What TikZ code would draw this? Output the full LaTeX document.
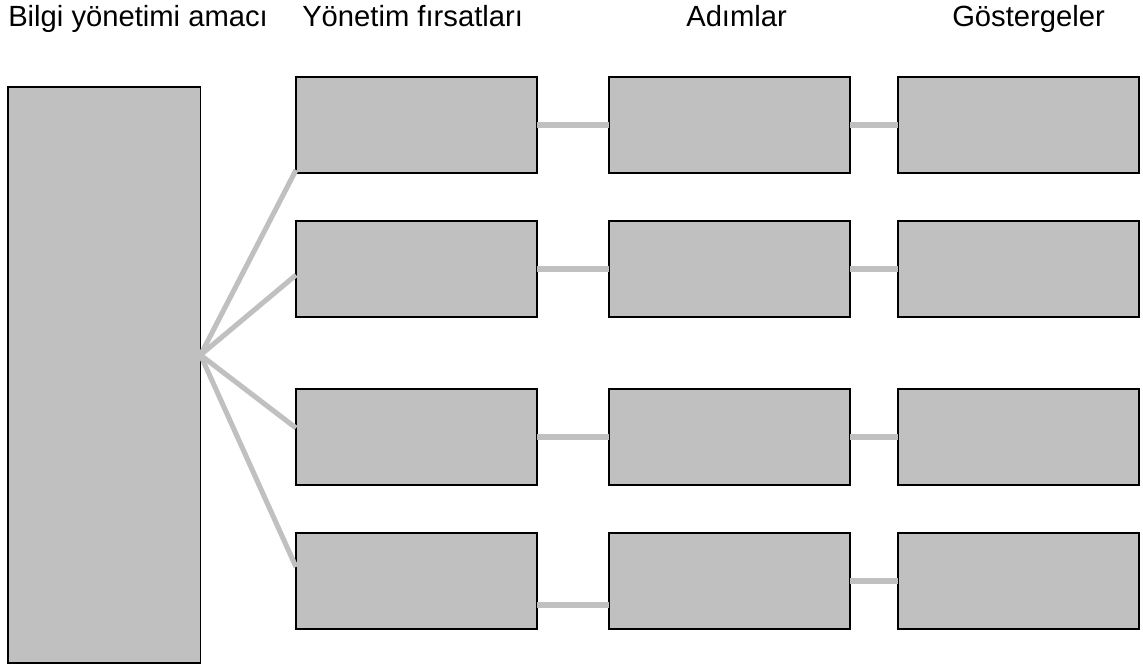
\documentclass[tikz,border=0pt]{standalone}
\usepackage{fontspec}
\setmainfont{Liberation Sans}
\usetikzlibrary{calc}

\definecolor{boxgray}{RGB}{192,192,192}

\tikzset{
  goal/.style={draw=black, fill=boxgray, line width=1.2pt, inner sep=0pt, outer sep=0pt,
    anchor=north west, minimum width=144.5pt, minimum height=432pt},
  cell/.style={draw=black, fill=boxgray, line width=1.2pt, inner sep=0pt, outer sep=0pt,
    anchor=north west, minimum width=180.75pt, minimum height=72pt},
  link/.style={draw=boxgray, line width=3.8pt},
  head/.style={anchor=base west, inner sep=0pt, font=\fontsize{21.9}{26}\selectfont}
}

\begin{document}
\begin{tikzpicture}[x=0.75pt,y=0.75pt,yscale=-1,xscale=1]
\useasboundingbox (0,0) rectangle (1143,667);

% Column titles
\node[head] (tamac) at (8,27) {Bilgi yönetimi amacı};
\node[head] (tfirsat) at (302,27) {Yönetim fırsatları};
\node[head] (tadim) at (686,27) {Adımlar};
\node[head] (tgosterge) at (952,27) {Göstergeler};

% Goal box
\node[goal] (amac) at (8,87) {};

% Opportunities
\node[cell] (f1) at (296,77) {};
\node[cell] (f2) at (296,221) {};
\node[cell] (f3) at (296,389) {};
\node[cell] (f4) at (296,533) {};

% Steps
\node[cell] (a1) at (609,77) {};
\node[cell] (a2) at (609,221) {};
\node[cell] (a3) at (609,389) {};
\node[cell] (a4) at (609,533) {};

% Indicators
\node[cell] (g1) at (898,77) {};
\node[cell] (g2) at (898,221) {};
\node[cell] (g3) at (898,389) {};
\node[cell] (g4) at (898,533) {};

% Fan from the goal
\coordinate (fan) at (200.5,355);
\draw[link] (fan) -- ($(f1.south west)+(0,-3)$);
\draw[link] (fan) -- ($(f2.west)+(0,6)$);
\draw[link] (fan) -- ($(f3.west)+(0,-9)$);
\draw[link] (fan) -- ($(f4.west)+(0,-14)$);

% Row links
\draw[link] (f1.east) -- (a1.west);
\draw[link] (a1.east) -- (g1.west);
\draw[link] (f2.east) -- (a2.west);
\draw[link] (a2.east) -- (g2.west);
\draw[link] (f3.east) -- (a3.west);
\draw[link] (a3.east) -- (g3.west);
\draw[link] ($(f4.east)+(0,24)$) -- ($(a4.west)+(0,24)$);
\draw[link] (a4.east) -- (g4.west);
\end{tikzpicture}
\end{document}
